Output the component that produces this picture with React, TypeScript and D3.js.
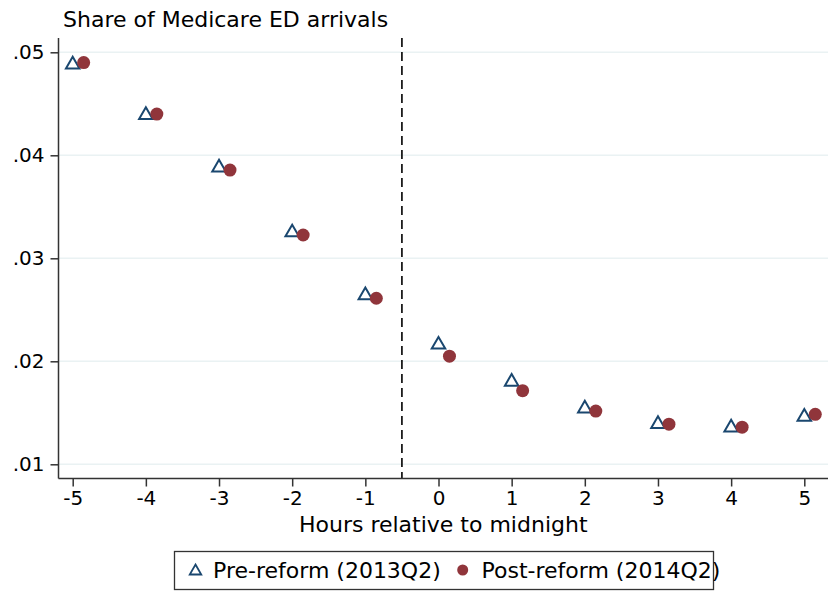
import React, { useRef, useEffect } from "react";
import * as d3 from "d3";

// hours relative to midnight
const hours = [-5, -4, -3, -2, -1, 0, 1, 2, 3, 4, 5];
// share of Medicare ED arrivals
const preReform = [0.049, 0.0441, 0.039, 0.0327, 0.0266, 0.0218, 0.0182, 0.0156, 0.0141, 0.01375, 0.0148];
const postReform = [0.049, 0.044, 0.03857, 0.03226, 0.02612, 0.0205, 0.01715, 0.01517, 0.0139, 0.0136, 0.01485];
const yTicks = [0.01, 0.02, 0.03, 0.04, 0.05];
const yTickLabels = [".01", ".02", ".03", ".04", ".05"];
const cutoff = -0.5;
const postOffset = 0.15;

const NAVY = "#1a476f";
const MAROON = "#90353b";
const FONT = "DejaVu Sans, sans-serif";

// hollow triangle centred on its bounding box
const triangle = (side) => {
  const h = (side * Math.sqrt(3)) / 2;
  return `M0,${-h / 2}L${side / 2},${h / 2}L${-side / 2},${h / 2}Z`;
};

const App = () => {
  const container = useRef(null);
  const width = 828;
  const height = 591;

  useEffect(() => {
    const svg = d3.select(container.current);
    svg.selectAll("*").remove();

    const left = 58.5;
    const bottom = 478.5;
    const top = 38;
    const right = 828;

    const x = d3.scaleLinear().domain([-5, 5]).range([72.7, 804.3]);
    const y = d3.scaleLinear().domain([0.01, 0.05]).range([464.3, 52.3]);

    // gridlines
    svg
      .append("g")
      .selectAll("line")
      .data(yTicks)
      .enter()
      .append("line")
      .attr("x1", left)
      .attr("x2", right)
      .attr("y1", (d) => y(d))
      .attr("y2", (d) => y(d))
      .attr("stroke", "#eaf2f3")
      .attr("stroke-width", 1.5);

    // cutoff line
    svg
      .append("line")
      .attr("x1", x(cutoff))
      .attr("x2", x(cutoff))
      .attr("y1", top)
      .attr("y2", bottom)
      .attr("stroke", "#000")
      .attr("stroke-width", 1.6)
      .attr("stroke-dasharray", "9,5");

    // y axis
    const yAxis = d3
      .axisLeft(y)
      .tickValues(yTicks)
      .tickFormat((d, i) => yTickLabels[i])
      .tickSize(8)
      .tickPadding(6);
    const gy = svg.append("g").attr("transform", `translate(${left},0)`).call(yAxis);
    gy.select(".domain").attr("d", `M0,${top}V${bottom}`);

    // x axis
    const xAxis = d3.axisBottom(x).tickValues(hours).tickFormat(d3.format("d")).tickSize(8).tickPadding(4);
    const gx = svg.append("g").attr("transform", `translate(0,${bottom})`).call(xAxis);
    gx.select(".domain").attr("d", `M${left},0H${right}`);

    [gx, gy].forEach((g) => {
      g.selectAll("path, line").attr("stroke", "#333").attr("stroke-width", 1.5);
      g.selectAll("text").attr("fill", "#000").style("font-family", FONT).style("font-size", "20px");
    });
    gx.selectAll("text").text((d) => (d < 0 ? "-" + Math.abs(d) : d));

    // title + axis label
    svg
      .append("text")
      .attr("x", 63)
      .attr("y", 27)
      .style("font-family", FONT)
      .style("font-size", "22px")
      .text("Share of Medicare ED arrivals");

    svg
      .append("text")
      .attr("x", (left + right) / 2)
      .attr("y", 531.5)
      .attr("text-anchor", "middle")
      .style("font-family", FONT)
      .style("font-size", "22px")
      .text("Hours relative to midnight");

    // pre-reform triangles
    svg
      .append("g")
      .selectAll("path")
      .data(preReform)
      .enter()
      .append("path")
      .attr("d", triangle(13.5))
      .attr("transform", (d, i) => `translate(${x(hours[i])},${y(d)})`)
      .attr("fill", "none")
      .attr("stroke", NAVY)
      .attr("stroke-width", 2);

    // post-reform circles
    svg
      .append("g")
      .selectAll("circle")
      .data(postReform)
      .enter()
      .append("circle")
      .attr("cx", (d, i) => x(hours[i] + postOffset))
      .attr("cy", (d) => y(d))
      .attr("r", 6.5)
      .attr("fill", MAROON);

    // legend
    const legend = svg.append("g");
    legend
      .append("rect")
      .attr("x", 174.5)
      .attr("y", 551.5)
      .attr("width", 539)
      .attr("height", 38)
      .attr("fill", "#fff")
      .attr("stroke", "#333")
      .attr("stroke-width", 1.3);
    legend
      .append("path")
      .attr("d", triangle(11.5))
      .attr("transform", "translate(195.5,569.5)")
      .attr("fill", "none")
      .attr("stroke", NAVY)
      .attr("stroke-width", 1.8);
    legend
      .append("circle")
      .attr("cx", 462.7)
      .attr("cy", 570)
      .attr("r", 5.5)
      .attr("fill", MAROON);
    legend
      .selectAll("text")
      .data([
        { label: "Pre-reform (2013Q2)", x: 213 },
        { label: "Post-reform (2014Q2)", x: 481.5 },
      ])
      .enter()
      .append("text")
      .attr("x", (d) => d.x)
      .attr("y", 578)
      .style("font-family", FONT)
      .style("font-size", "22px")
      .text((d) => d.label);
  }, []);

  return (
    <div style={{ width: width, height: height, position: "absolute", left: 0, top: 0, background: "#fff" }}>
      <svg ref={container} width={width} height={height} style={{ display: "block" }} />
    </div>
  );
};

export default App;
